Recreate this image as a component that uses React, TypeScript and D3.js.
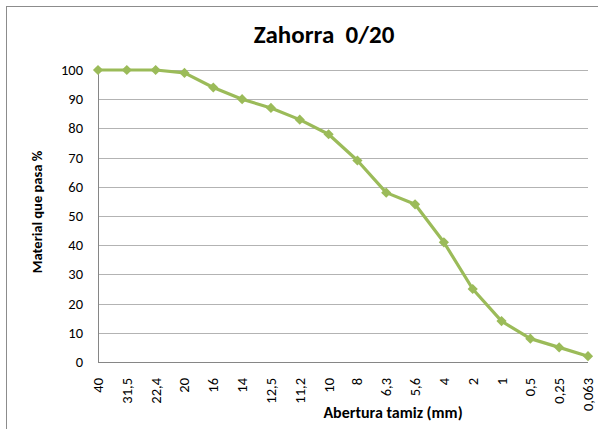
import * as d3 from "d3";
import React, { useRef, useEffect } from "react";

const categories = ["40", "31,5", "22,4", "20", "16", "14", "12,5", "11,2", "10", "8", "6,3", "5,6", "4", "2", "1", "0,5", "0,25", "0,063"];
const values = [100, 100, 100, 99, 94, 90, 87, 83, 78, 69, 58, 54, 41, 25, 14, 8, 5, 2];
const yTicks = [0, 10, 20, 30, 40, 50, 60, 70, 80, 90, 100];

const W = 598;
const H = 429;
const plot = { left: 98, right: 588, top: 70, bottom: 362 };
const font = "Carlito, Lato, 'Open Sans', sans-serif";
const green = "#9BBB59";

export default function App() {
  const ref = useRef<SVGSVGElement>(null);

  useEffect(() => {
    const svg = d3.select(ref.current);
    svg.selectAll("*").remove();

    svg.append("rect")
      .attr("x", 0).attr("y", 0).attr("width", W).attr("height", H).attr("fill", "#fff");
    // outer chart border
    svg.append("rect")
      .attr("x", 6.5).attr("y", 6.5).attr("width", W).attr("height", H)
      .attr("fill", "none").attr("stroke", "#8c8c8c").attr("stroke-width", 1);

    const x = d3.scalePoint().domain(categories).range([plot.left, plot.right]);
    const y = d3.scaleLinear().domain([0, 100]).range([plot.bottom, plot.top]);

    // gridlines
    svg.append("g")
      .selectAll("line")
      .data(yTicks.filter((d) => d > 0))
      .enter()
      .append("line")
      .attr("x1", plot.left).attr("x2", plot.right)
      .attr("y1", (d) => Math.round(y(d)) + 0.5).attr("y2", (d) => Math.round(y(d)) + 0.5)
      .attr("stroke", "#b3b3b3").attr("stroke-width", 1);

    // axes lines
    svg.append("line")
      .attr("x1", plot.left + 0.5).attr("x2", plot.left + 0.5)
      .attr("y1", plot.top).attr("y2", plot.bottom)
      .attr("stroke", "#868686");
    svg.append("line")
      .attr("x1", plot.left).attr("x2", plot.right)
      .attr("y1", plot.bottom + 0.5).attr("y2", plot.bottom + 0.5)
      .attr("stroke", "#868686");

    // y tick labels
    svg.append("g")
      .selectAll("text")
      .data(yTicks)
      .enter()
      .append("text")
      .attr("x", 83)
      .attr("y", (d) => y(d) + 5)
      .attr("text-anchor", "end")
      .attr("font-family", font)
      .attr("font-size", 14.5)
      .attr("fill", "#000")
      .text((d) => d);

    // x tick labels
    svg.append("g")
      .selectAll("text")
      .data(categories)
      .enter()
      .append("text")
      .attr("transform", (d) => `translate(${x(d)! + 5},378) rotate(-90)`)
      .attr("text-anchor", "end")
      .attr("font-family", font)
      .attr("font-size", 14.5)
      .attr("fill", "#000")
      .text((d) => d);

    // line
    const line = d3.line<number>()
      .x((d, i) => x(categories[i])!)
      .y((d) => y(d));
    svg.append("path")
      .datum(values)
      .attr("d", line)
      .attr("fill", "none")
      .attr("stroke", green)
      .attr("stroke-width", 3.2)
      .attr("stroke-linejoin", "round");

    // markers (square diamonds)
    const diamond = d3.symbol().type(d3.symbolSquare).size(52);
    svg.append("g")
      .selectAll("path")
      .data(values)
      .enter()
      .append("path")
      .attr("d", diamond)
      .attr("transform", (d, i) => `translate(${x(categories[i])},${y(d)}) rotate(45)`)
      .attr("fill", green);

    // title
    svg.append("text")
      .attr("x", 324).attr("y", 43)
      .attr("text-anchor", "middle")
      .attr("font-family", font)
      .attr("font-weight", "bold")
      .attr("font-size", 25)
      .attr("fill", "#000")
      .style("white-space", "pre")
      .text("Zahorra  0/20");

    // axis titles
    svg.append("text")
      .attr("transform", "translate(42,212) rotate(-90)")
      .attr("text-anchor", "middle")
      .attr("font-family", font)
      .attr("font-weight", "bold")
      .attr("font-size", 14.5)
      .attr("fill", "#000")
      .text("Material que pasa %");
    svg.append("text")
      .attr("x", 393).attr("y", 418)
      .attr("text-anchor", "middle")
      .attr("font-family", font)
      .attr("font-weight", "bold")
      .attr("font-size", 16)
      .attr("fill", "#000")
      .text("Abertura tamiz (mm)");
  }, []);

  return (
    <svg
      ref={ref}
      width={W}
      height={H}
      style={{ position: "absolute", left: 0, top: 0, display: "block" }}
    />
  );
}
